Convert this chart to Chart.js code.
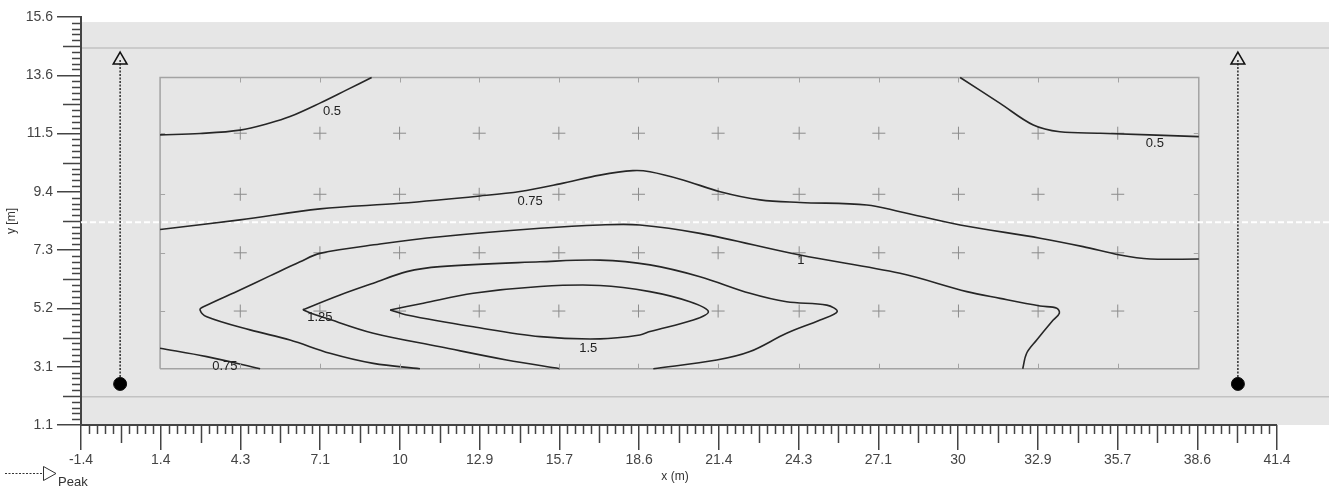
<!DOCTYPE html>
<html>
<head>
<meta charset="utf-8">
<script src="https://cdn.jsdelivr.net/npm/chart.js@4.4.1/dist/chart.umd.min.js"></script>
<style>
html, body { margin: 0; padding: 0; background: #fff; }
#wrap { width: 1329px; height: 489px; position: relative; }
</style>
</head>
<body>
<div id="wrap"><canvas id="contourChart"></canvas></div>
<script>
// axis tick labels (ticks are evenly spaced between min and max)
var xTickLabels = ["-1.4", "1.4", "4.3", "7.1", "10", "12.9", "15.7", "18.6", "21.4", "24.3", "27.1", "30", "32.9", "35.7", "38.6", "41.4"];
var yTickLabels = ["1.1", "3.1", "5.2", "7.3", "9.4", "11.5", "13.6", "15.6"];
var xMin = -1.4, xMax = 41.4, yMin = 1.1, yMax = 15.6;

// sensor grid (+ marks) and its frame
var sensorX = [4.3, 7.15, 10, 12.85, 15.7, 18.55, 21.4, 24.3, 27.15, 30, 32.85, 35.7];
var sensorY = [5.15, 7.22, 9.3, 11.47];
var frameX = [1.43, 38.6];
var frameY = [3.1, 13.45];

// peak markers
var peakX = [0, 40];
var peakY = [2.56, 14.07];

// white dashed divider
var dividerY = 8.31;

// contour lines [x, y]
var c05Left = [[1.43,11.41],[2.86,11.46],[4.29,11.58],[5.36,11.83],[6.08,12.06],[7.15,12.54],[8.11,13.01],[9.0,13.45]];
var c05Right = [[30.06,13.45],[31.49,12.53],[32.68,11.76],[33.63,11.52],[35.07,11.47],[38.6,11.35]];
var c075Upper = [[1.43,8.05],[4.29,8.39],[7.15,8.78],[10.02,8.98],[12.88,9.24],[14.31,9.40],[15.74,9.67],[17.17,9.98],[18.35,10.14],[18.96,10.10],[20.14,9.81],[21.47,9.39],[22.90,9.10],[24.33,9.01],[26.72,8.92],[27.91,8.68],[30.06,8.21],[32.92,7.74],[34.46,7.44],[35.78,7.14],[36.86,7.00],[38.6,7.00]];
var c075Lower = [[1.43,3.83],[3.10,3.53],[5.01,3.1]];
var c1 = [[10.73,3.1],[9.06,3.29],[7.51,3.65],[6.08,4.12],[4.65,4.48],[3.10,4.95],[2.86,5.19],[2.98,5.30],[4.29,5.90],[5.36,6.40],[6.44,6.90],[7.15,7.20],[9.30,7.53],[11.45,7.79],[15.03,8.09],[17.17,8.21],[18.60,8.21],[20.75,7.91],[24.33,7.14],[27.91,6.49],[30.30,5.84],[31.49,5.60],[32.92,5.33],[33.52,5.25],[33.61,5.07],[33.39,4.83],[32.80,4.12],[32.44,3.65],[32.30,3.1]];
var c125 = [[19.08,3.1],[21.35,3.41],[22.54,3.71],[23.85,4.36],[25.05,4.83],[25.66,5.13],[25.29,5.36],[23.85,5.48],[22.54,5.78],[20.75,6.37],[18.96,6.79],[17.17,6.96],[15.03,6.90],[11.45,6.73],[10.26,6.55],[9.06,6.14],[7.87,5.72],[6.68,5.25],[6.56,5.19],[7.39,4.89],[9.06,4.36],[11.45,3.88],[13.83,3.41],[15.74,3.1]];
var c15 = [[9.66,5.19],[10.85,5.43],[12.64,5.78],[15.03,6.02],[17.17,6.06],[18.96,5.84],[20.39,5.48],[21.05,5.13],[20.51,4.83],[18.96,4.42],[18.60,4.30],[17.17,4.16],[15.03,4.24],[12.64,4.59],[10.26,5.01],[9.66,5.19]];

// contour labels
var labelText = ["0.5", "0.75", "1", "1.25", "1.5", "0.75", "0.5"];
var labelX = [7.58, 14.67, 24.36, 7.15, 16.75, 3.75, 37.03];
var labelY = [12.26, 9.06, 6.96, 4.93, 3.83, 3.17, 11.11];

var FONT = "'Liberation Sans', Arial, sans-serif";

function evenTicks(min, max, n) {
  var out = [];
  for (var i = 0; i < n; i++) out.push(min + i * (max - min) / (n - 1));
  return out;
}
var xTickVals = evenTicks(xMin, xMax, xTickLabels.length);
var yTickVals = evenTicks(yMin, yMax, yTickLabels.length);

function pts(arr) {
  return arr.map(function(p) { return {x: p[0], y: p[1]}; });
}

function contour(arr) {
  return {
    data: pts(arr), showLine: true, borderColor: "#262626", borderWidth: 1.6,
    pointRadius: 0, tension: 0.35, order: 1
  };
}

var sensors = [];
sensorY.forEach(function(y) { sensorX.forEach(function(x) { sensors.push({x: x, y: y}); }); });

var datasets = [
  contour(c05Left), contour(c05Right), contour(c075Upper), contour(c075Lower),
  contour(c1), contour(c125), contour(c15),
  {
    data: sensors, pointStyle: "cross", pointRadius: 6.5, pointBorderColor: "#8c8c8c",
    pointBorderWidth: 1, showLine: false, order: 5
  },
  {
    data: [{x: frameX[0], y: frameY[0]}, {x: frameX[1], y: frameY[0]}, {x: frameX[1], y: frameY[1]},
           {x: frameX[0], y: frameY[1]}, {x: frameX[0], y: frameY[0]}],
    showLine: true, borderColor: "#a3a3a3", borderWidth: 1.5, pointRadius: 0, order: 6
  },
  {
    data: [{x: xMin, y: dividerY}, {x: 44, y: dividerY}], showLine: true, borderColor: "#ffffff",
    borderWidth: 2, borderDash: [6, 3], pointRadius: 0, order: 4
  }
];
peakX.forEach(function(px) {
  datasets.push({
    data: [{x: px, y: peakY[0]}, {x: px, y: peakY[1]}], showLine: true,
    borderColor: "#111", borderWidth: 1.3, borderDash: [2, 1.5],
    pointStyle: ["circle", "triangle"], pointRadius: [6.5, 8],
    pointBackgroundColor: ["#000", "rgba(0,0,0,0)"], pointBorderColor: "#111",
    pointBorderWidth: [1, 1.5], order: 0
  });
});

var decor = {
  id: "decor",
  beforeDraw: function(chart) {
    var ctx = chart.ctx, a = chart.chartArea, ys = chart.scales.y;
    ctx.save();
    var top = ys.getPixelForValue(15.42);
    ctx.fillStyle = "#e6e6e6";
    ctx.fillRect(a.left, top, a.right - a.left, a.bottom - top);
    ctx.strokeStyle = "#c2c2c2";
    ctx.lineWidth = 1.5;
    [14.5, 2.1].forEach(function(v) {
      var y = ys.getPixelForValue(v);
      ctx.beginPath(); ctx.moveTo(a.left, y); ctx.lineTo(a.right, y); ctx.stroke();
    });
    ctx.restore();
  },
  afterDatasetsDraw: function(chart) {
    var ctx = chart.ctx, xs = chart.scales.x, ys = chart.scales.y;
    ctx.save();
    // small ticks on the sensor frame
    ctx.strokeStyle = "#a3a3a3";
    ctx.lineWidth = 1;
    var fl = xs.getPixelForValue(frameX[0]), fr = xs.getPixelForValue(frameX[1]);
    var fb = ys.getPixelForValue(frameY[0]), ft = ys.getPixelForValue(frameY[1]);
    ctx.beginPath();
    sensorX.forEach(function(v) {
      var x = Math.round(xs.getPixelForValue(v)) + 0.5;
      ctx.moveTo(x, ft); ctx.lineTo(x, ft + 5);
      ctx.moveTo(x, fb); ctx.lineTo(x, fb - 5);
    });
    sensorY.forEach(function(v) {
      var y = Math.round(ys.getPixelForValue(v)) + 0.5;
      ctx.moveTo(fl, y); ctx.lineTo(fl + 5, y);
      ctx.moveTo(fr, y); ctx.lineTo(fr - 5, y);
    });
    ctx.stroke();
    // contour labels
    ctx.fillStyle = "#222";
    ctx.font = "13px " + FONT;
    ctx.textAlign = "center";
    ctx.textBaseline = "middle";
    labelText.forEach(function(t, i) {
      ctx.fillText(t, xs.getPixelForValue(labelX[i]), ys.getPixelForValue(labelY[i]));
    });
    ctx.restore();
  },
  afterDraw: function(chart) {
    var ctx = chart.ctx, a = chart.chartArea, xs = chart.scales.x, ys = chart.scales.y;
    ctx.save();
    ctx.strokeStyle = "#444";
    // x axis line, only up to the last tick
    ctx.lineWidth = 2;
    ctx.beginPath();
    ctx.moveTo(a.left, a.bottom); ctx.lineTo(xs.getPixelForValue(xMax), a.bottom);
    ctx.stroke();
    // minor ticks
    ctx.lineWidth = 1.5;
    ctx.beginPath();
    for (var i = 0; i < xTickVals.length - 1; i++) {
      var sx = (xTickVals[i + 1] - xTickVals[i]) / 10;
      for (var k = 1; k < 10; k++) {
        var px = Math.round(xs.getPixelForValue(xTickVals[i] + k * sx)) + 0.5;
        ctx.moveTo(px, a.bottom); ctx.lineTo(px, a.bottom + (k === 5 ? 18 : 9));
      }
    }
    for (var j = 0; j < yTickVals.length - 1; j++) {
      var sy = (yTickVals[j + 1] - yTickVals[j]) / 10;
      for (var m = 1; m < 10; m++) {
        var py = Math.round(ys.getPixelForValue(yTickVals[j] + m * sy)) + 0.5;
        ctx.moveTo(a.left, py); ctx.lineTo(a.left - (m === 5 ? 18 : 9), py);
      }
    }
    ctx.stroke();
    // axis titles
    ctx.fillStyle = "#333";
    ctx.font = "12px " + FONT;
    ctx.textAlign = "center";
    ctx.textBaseline = "middle";
    ctx.fillText("x (m)", 675, 477);
    ctx.save();
    ctx.translate(12, 221);
    ctx.rotate(-Math.PI / 2);
    ctx.fillText("y [m]", 0, 0);
    ctx.restore();
    // legend: Peak
    ctx.strokeStyle = "#333";
    ctx.lineWidth = 1;
    ctx.setLineDash([2, 1.5]);
    ctx.beginPath(); ctx.moveTo(5, 473.5); ctx.lineTo(43, 473.5); ctx.stroke();
    ctx.setLineDash([]);
    ctx.beginPath();
    ctx.moveTo(43.5, 466.5); ctx.lineTo(56, 473.5); ctx.lineTo(43.5, 480.5); ctx.closePath();
    ctx.stroke();
    ctx.textAlign = "left";
    ctx.font = "13px " + FONT;
    ctx.fillText("Peak", 58, 482);
    ctx.restore();
  }
};

var ctx = document.getElementById("contourChart").getContext("2d");
var contourChart = new Chart(ctx, {
  type: "scatter",
  data: { datasets: datasets },
  options: {
    responsive: true,
    maintainAspectRatio: false,
    animation: false,
    devicePixelRatio: 1,
    layout: { autoPadding: false, padding: { top: 17, right: 0, bottom: 0, left: 0 } },
    plugins: { legend: { display: false }, tooltip: { enabled: false } },
    scales: {
      x: {
        type: "linear", min: xMin, max: 43.26,
        afterBuildTicks: function(s) { s.ticks = xTickVals.map(function(v) { return {value: v}; }); },
        afterFit: function(s) { s.height = 64; },
        ticks: {
          callback: function(v, i) { return xTickLabels[i]; },
          font: { family: FONT, size: 14 }, color: "#444", padding: 2,
          autoSkip: false, maxRotation: 0
        },
        grid: { drawOnChartArea: false, drawTicks: true, tickLength: 25, color: "#444", lineWidth: 1.5 },
        border: { display: false }
      },
      y: {
        type: "linear", min: yMin, max: yMax,
        afterBuildTicks: function(s) { s.ticks = yTickVals.map(function(v) { return {value: v}; }); },
        afterFit: function(s) { s.width = 81; },
        ticks: {
          callback: function(v, i) { return yTickLabels[i]; },
          font: { family: FONT, size: 14 }, color: "#444", padding: 4, autoSkip: false
        },
        grid: { drawOnChartArea: false, drawTicks: true, tickLength: 24, color: "#444", lineWidth: 1.5 },
        border: { display: true, color: "#444", width: 2 }
      }
    }
  },
  plugins: [decor]
});
</script>
</body>
</html>
